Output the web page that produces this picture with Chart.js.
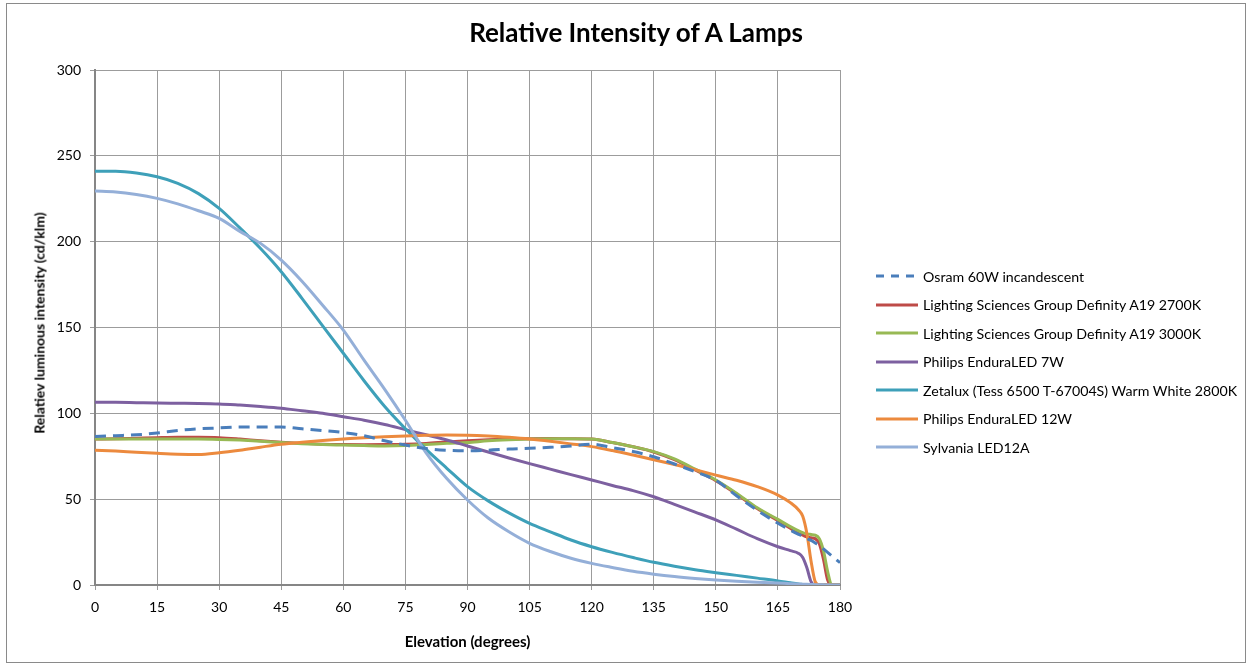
<!DOCTYPE html>
<html>
<head>
<meta charset="utf-8">
<script src="https://cdn.jsdelivr.net/npm/chart.js@4.4.1/dist/chart.umd.min.js"></script>
<style>
  body { margin: 0; background: #fff; font-family: Lato, "Open Sans", sans-serif; }
  #wrap { position: relative; width: 1251px; height: 667px; }
  #frame { position: absolute; left: 6px; top: 3px; width: 1240px; height: 660px; border: 1px solid #8a8a8a; box-sizing: border-box; }
  #title { position: absolute; left: 0; width: 1272px; top: 16px; text-align: center; font-weight: bold; font-size: 26px; color: #000; }
  #ytitle { position: absolute; left: 39px; top: 323px; transform: translate(-50%, -50%) rotate(-90deg); white-space: nowrap; font-weight: bold; font-size: 14px; }
  #legend { position: absolute; left: 876px; top: 262px; font-size: 14.2px; }
  #legend .item { height: 28.5px; display: flex; align-items: center; }
  #legend canvas { margin-right: 5px; }
  #chart { position: absolute; left: 0; top: 0; }
</style>
</head>
<body>
<div id="wrap">
  <div id="frame"></div>
  <canvas id="chart" width="1251" height="667"></canvas>
  <div id="title">Relative Intensity of A Lamps</div>
  <div id="ytitle">Relatiev luminous intensity (cd/klm)</div>
  <div id="legend"></div>
</div>
<script>
document.addEventListener('DOMContentLoaded', function() {

    // --- data (elevation in degrees, intensity in cd/klm) ---
    const angles = [0, 5, 10, 15, 20, 25, 30, 35, 40, 45, 50, 55, 60, 65, 70, 75, 80, 85, 90, 95,
        100, 105, 110, 115, 120, 125, 130, 135, 140, 145, 150, 155, 160, 165,
        168, 170, 171, 172, 173, 174, 175, 176, 177, 178, 180];

    const seriesNames = [
        'Osram 60W incandescent',
        'Lighting Sciences Group Definity A19 2700K',
        'Lighting Sciences Group Definity A19 3000K',
        'Philips EnduraLED  7W',
        'Zetalux (Tess 6500 T-67004S) Warm White 2800K',
        'Philips EnduraLED  12W',
        'Sylvania LED12A'
    ];

    const osram = [86.5, 87, 87.5, 88.5, 90, 91, 91.5, 92, 92, 92, 91, 90, 88.8, 87, 84, 81.5, 79.5, 78.5, 78.2, 78.5,
        79.2, 79.6, 80.2, 81, 82, 80, 77.8, 74.7, 70.5, 66, 61, 52, 43.5, 36,
        32, 29.5, 28.5, 27, 26, 24.5, 23, 21, 19, 17, 13];
    const lsg2700 = [85, 85.2, 85.5, 85.8, 86, 86, 85.8, 85, 84, 83.2, 82.5, 82, 81.8, 81.7, 81.8, 82, 82.5, 83.3, 84, 84.6,
        85, 85.2, 85.3, 85.2, 85, 83, 80.5, 77.5, 73, 67, 60.8, 53, 44.5, 37.5,
        33, 30, 29, 28, 27.5, 27, 24, 15, 3, 0, 0];
    const lsg3000 = [85, 85, 85, 85, 85, 85, 84.8, 84.4, 83.8, 83, 82.3, 81.8, 81.5, 81.2, 81, 81.2, 81.8, 82.5, 83, 84,
        84.6, 85, 85.2, 85.2, 85, 83, 80.5, 77.7, 73.5, 67.5, 61.2, 53.5, 45, 38.2,
        34, 31.5, 30.5, 29.8, 29.4, 29, 27, 20, 8, 0, 0];
    const philips7 = [106.5, 106.4, 106.2, 106, 105.9, 105.8, 105.5, 104.8, 104, 103, 101.5, 100, 98, 96, 93.5, 90.5, 87.5, 84.5, 81, 77.5,
        74, 70.7, 67.5, 64.3, 61.2, 58, 55, 51.4, 47, 42.5, 37.9, 32.5, 27, 22.3,
        20, 18.4, 16, 10, 2, 0, 0, 0, 0, 0, 0];
    const zetalux = [241, 241, 240, 237.8, 234, 228, 219.4, 208, 196, 182.5, 167, 151, 135, 119, 104, 91, 79, 68, 57.3, 49,
        42, 35.9, 31, 26.2, 22.3, 19, 16, 13.2, 10.9, 8.9, 7.2, 5.6, 4, 2.4,
        1.3, 0.6, 0.3, 0, 0, 0, 0, 0, 0, 0, 0];
    const philips12 = [78.5, 78, 77.3, 76.7, 76.2, 76, 77, 78.5, 80.3, 82, 83.2, 84.2, 85, 85.8, 86.4, 86.8, 87.2, 87.4, 87.3, 86.8,
        86, 85, 83.7, 82.2, 80.6, 78.3, 75.7, 73, 70.2, 67.2, 64, 61, 57.3, 52.4,
        48, 43.7, 40, 30, 14, 2, 0, 0, 0, 0, 0];
    const sylvania = [229.5, 229, 227.5, 225.2, 222, 218, 213.6, 206, 199, 189.3, 177, 163, 148.5, 131, 114, 96, 77, 62, 49.5, 39,
        31, 24.3, 19.5, 15.6, 12.6, 10.2, 8, 6.3, 4.9, 3.8, 2.9, 2.2, 1.6, 1.1,
        0.8, 0.6, 0.5, 0.4, 0.3, 0.2, 0.1, 0.1, 0, 0, 0];

    const xTicks = [0, 15, 30, 45, 60, 75, 90, 105, 120, 135, 150, 165, 180];
    const yTicks = [0, 50, 100, 150, 200, 250, 300];

    const allValues = [osram, lsg2700, lsg3000, philips7, zetalux, philips12, sylvania];
    const colors = ['#4a7ebb', '#be4b48', '#98b954', '#7d60a0', '#3ea0b9', '#ec8a3e', '#94afd8'];

    const datasets = allValues.map((vals, i) => ({
        label: seriesNames[i],
        data: angles.map((a, j) => ({ x: a, y: vals[j] })),
        borderColor: colors[i],
        backgroundColor: colors[i],
        borderWidth: 3,
        borderDash: i === 0 ? [11, 7] : [],
        pointRadius: 0,
        cubicInterpolationMode: 'monotone',
        fill: false
    }));

    // draw order: the dashed series sits on top
    datasets.forEach((d, i) => { d.order = i === 0 ? -1 : 7 - i; });

    const gridColor = '#9c9c9c';
    const fontFamily = 'Lato, "Open Sans", sans-serif';
    const axisFont = { family: fontFamily, size: 14 };

    new Chart(document.getElementById('chart'), {
        type: 'line',
        data: { datasets: datasets },
        options: {
            responsive: false,
            animation: false,
            layout: { padding: { left: 0, right: 411, top: 70, bottom: 0 } },
            plugins: {
                legend: { display: false },
                tooltip: { enabled: false }
            },
            scales: {
                x: {
                    type: 'linear',
                    min: 0,
                    max: 180,
                    afterBuildTicks: (s) => { s.ticks = xTicks.map(v => ({ value: v })); },
                    afterFit: (s) => { s.height = 82; },
                    ticks: { color: '#000', font: axisFont, padding: 9, maxRotation: 0 },
                    grid: { color: gridColor, tickColor: gridColor, tickLength: 5 },
                    border: { color: '#868686', width: 2 },
                    title: {
                        display: true,
                        text: 'Elevation (degrees)',
                        color: '#000',
                        font: { family: fontFamily, size: 15, weight: 'bold' },
                        padding: { top: 10, bottom: 16 }
                    }
                },
                y: {
                    min: 0,
                    max: 300,
                    afterBuildTicks: (s) => { s.ticks = yTicks.map(v => ({ value: v })); },
                    afterFit: (s) => { s.width = 95; },
                    ticks: { color: '#000', font: axisFont, padding: 9 },
                    grid: { color: gridColor, tickColor: gridColor, tickLength: 5 },
                    border: { color: '#868686', width: 2 }
                }
            }
        }
    });

    // --- legend ---
    const legend = document.getElementById('legend');
    seriesNames.forEach((name, i) => {
        const item = document.createElement('div');
        item.className = 'item';
        const sw = document.createElement('canvas');
        sw.width = 42; sw.height = 6;
        const ctx = sw.getContext('2d');
        ctx.strokeStyle = colors[i];
        ctx.lineWidth = 3;
        if (i === 0) ctx.setLineDash([8, 7]);
        ctx.beginPath(); ctx.moveTo(0, 3); ctx.lineTo(42, 3); ctx.stroke();
        const txt = document.createElement('span');
        txt.textContent = name;
        item.appendChild(sw);
        item.appendChild(txt);
        legend.appendChild(item);
    });
});
</script>
</body>
</html>
